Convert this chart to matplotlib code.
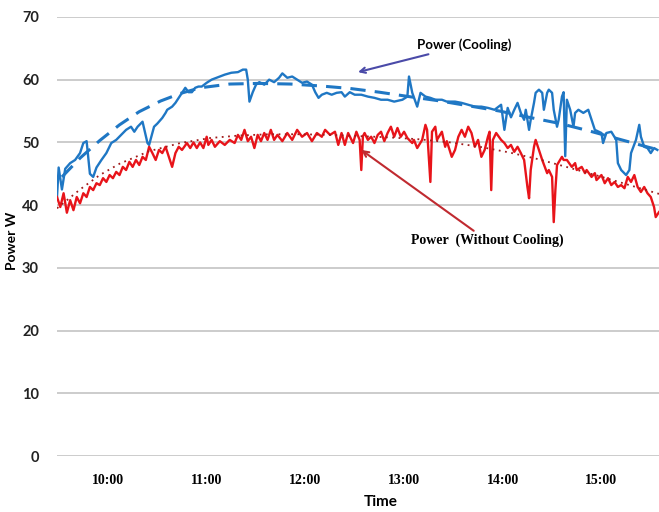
import matplotlib
matplotlib.use("Agg")
from matplotlib import pyplot as plt


def hrs(s):
    h, m = s.split(':')
    return int(h) + int(m) / 60.0


# power with cooling (blue)
coolTimes = ['9:29', '9:30', '9:32', '9:34', '9:37', '9:40', '9:43', '9:45', '9:47', '9:49',
             '9:51', '9:53', '9:56', '9:59', '10:02', '10:05', '10:08', '10:11', '10:14', '10:16',
             '10:18', '10:21', '10:24', '10:25', '10:27', '10:28', '10:30', '10:33', '10:35', '10:36',
             '10:39', '10:41', '10:43', '10:45', '10:47', '10:49', '10:51', '10:53', '10:55', '10:57',
             '11:00', '11:03', '11:07', '11:11', '11:15', '11:19', '11:22', '11:24', '11:25', '11:26',
             '11:28', '11:30', '11:32', '11:35', '11:38', '11:41', '11:44', '11:46', '11:49', '11:52',
             '11:55', '11:58', '12:01', '12:04', '12:06', '12:08', '12:10', '12:13', '12:16', '12:19',
             '12:22', '12:24', '12:27', '12:30', '12:34', '12:38', '12:42', '12:46', '12:50', '12:54',
             '12:59', '13:02', '13:03', '13:05', '13:08', '13:10', '13:13', '13:16', '13:19', '13:23',
             '13:26', '13:31', '13:35', '13:39', '13:43', '13:47', '13:51', '13:55', '13:59', '14:01',
             '14:03', '14:05', '14:07', '14:09', '14:11', '14:13', '14:14', '14:16', '14:17', '14:19',
             '14:20', '14:22', '14:24', '14:25', '14:27', '14:28', '14:30', '14:31', '14:33', '14:34',
             '14:36', '14:37', '14:38', '14:39', '14:41', '14:43', '14:44', '14:46', '14:49', '14:52',
             '14:54', '14:56', '15:00', '15:01', '15:03', '15:06', '15:09', '15:10', '15:12', '15:15',
             '15:17', '15:18', '15:21', '15:23', '15:24', '15:26', '15:28', '15:30', '15:32', '15:34']
coolPower = [41.3, 46.0, 42.5, 45.8, 46.7, 47.2, 48.3, 49.9, 50.2, 45.0,
             44.5, 46.0, 47.2, 48.3, 49.9, 50.4, 51.2, 52.0, 52.5, 51.7,
             52.5, 53.3, 49.9, 49.6, 51.5, 52.5, 53.0, 53.9, 54.7, 55.2,
             55.7, 56.3, 57.1, 57.9, 58.7, 58.0, 58.0, 58.7, 58.9, 58.9,
             59.5, 60.0, 60.4, 60.8, 61.1, 61.2, 61.6, 61.6, 60.0, 56.5,
             58.0, 59.2, 59.6, 59.2, 60.0, 59.6, 60.3, 61.0, 60.3, 60.5,
             60.0, 59.5, 59.7, 59.2, 58.0, 57.1, 57.6, 57.9, 57.6, 57.9,
             58.0, 57.3, 58.0, 57.6, 57.6, 57.3, 57.1, 56.8, 56.8, 56.5,
             56.8, 57.3, 60.5, 57.9, 55.7, 57.9, 57.3, 57.1, 56.8, 56.8,
             56.5, 56.5, 56.3, 56.0, 55.7, 55.7, 55.5, 55.2, 56.0, 52.0,
             55.5, 54.0, 55.2, 56.3, 54.7, 53.6, 55.2, 52.0, 53.6, 56.3,
             57.9, 58.4, 57.9, 55.2, 57.9, 58.4, 57.9, 55.2, 52.5, 53.6,
             57.3, 58.0, 47.8, 56.8, 55.2, 52.5, 54.7, 55.2, 54.7, 55.2,
             53.6, 52.0, 51.5, 49.9, 51.5, 51.7, 50.4, 46.7, 45.6, 44.8,
             45.6, 48.3, 50.4, 52.8, 50.9, 49.3, 49.1, 48.3, 49.1, 48.8]

# power without cooling (red)
noCoolTimes = ['9:29', '9:31', '9:33', '9:35', '9:37', '9:39', '9:41', '9:43', '9:45', '9:47',
               '9:49', '9:51', '9:53', '9:55', '9:57', '9:59', '10:01', '10:03', '10:05', '10:07',
               '10:09', '10:11', '10:13', '10:15', '10:17', '10:19', '10:21', '10:23', '10:25', '10:27',
               '10:29', '10:31', '10:33', '10:35', '10:37', '10:39', '10:41', '10:43', '10:45', '10:48',
               '10:50', '10:52', '10:54', '10:56', '10:58', '11:00', '11:01', '11:03', '11:05', '11:08',
               '11:11', '11:14', '11:17', '11:19', '11:21', '11:23', '11:25', '11:27', '11:29', '11:31',
               '11:33', '11:35', '11:37', '11:39', '11:41', '11:43', '11:46', '11:49', '11:52', '11:55',
               '11:58', '12:01', '12:04', '12:07', '12:10', '12:12', '12:15', '12:18', '12:20', '12:22',
               '12:24', '12:26', '12:29', '12:31', '12:33', '12:34', '12:35', '12:36', '12:38', '12:40',
               '12:42', '12:44', '12:46', '12:48', '12:50', '12:52', '12:54', '12:56', '12:58', '13:00',
               '13:02', '13:05', '13:06', '13:08', '13:11', '13:13', '13:14', '13:16', '13:17', '13:19',
               '13:20', '13:23', '13:25', '13:26', '13:29', '13:31', '13:33', '13:35', '13:37', '13:39',
               '13:41', '13:43', '13:45', '13:47', '13:49', '13:51', '13:52', '13:53', '13:54', '13:56',
               '13:59', '14:01', '14:03', '14:05', '14:07', '14:09', '14:11', '14:13', '14:15', '14:16',
               '14:17', '14:19', '14:20', '14:22', '14:24', '14:27', '14:28', '14:30', '14:31', '14:32',
               '14:33', '14:36', '14:37', '14:39', '14:42', '14:44', '14:45', '14:48', '14:50', '14:51',
               '14:54', '14:56', '14:57', '15:00', '15:02', '15:04', '15:06', '15:08', '15:10', '15:12',
               '15:14', '15:16', '15:18', '15:20', '15:22', '15:24', '15:26', '15:28', '15:30', '15:32',
               '15:33', '15:35']
noCoolPower = [41.3, 39.7, 41.9, 38.8, 40.8, 39.2, 41.3, 40.3, 41.9, 41.3,
               42.9, 42.4, 43.5, 43.2, 44.3, 43.7, 44.8, 44.3, 45.3, 44.8,
               46.1, 45.6, 46.9, 46.1, 47.2, 46.4, 47.7, 47.2, 49.3, 48.3,
               47.2, 48.8, 48.3, 49.3, 47.7, 46.1, 48.3, 49.3, 48.8, 49.9,
               49.1, 50.0, 49.1, 50.0, 49.1, 50.9, 49.6, 50.4, 49.3, 50.2,
               49.6, 50.4, 49.9, 51.2, 50.4, 52.0, 50.2, 50.9, 49.1, 51.2,
               50.2, 51.5, 50.4, 52.0, 50.4, 51.2, 50.2, 51.5, 50.4, 52.0,
               50.9, 51.5, 50.2, 51.5, 50.9, 52.0, 51.2, 51.7, 49.6, 51.5,
               49.6, 51.5, 49.9, 51.7, 50.4, 45.6, 51.0, 51.5, 50.4, 50.9,
               49.9, 51.2, 51.7, 50.2, 51.5, 52.5, 50.9, 52.3, 50.9, 51.7,
               50.7, 49.9, 50.4, 49.1, 50.4, 52.8, 52.0, 43.7, 51.7, 52.5,
               50.4, 51.7, 49.3, 50.2, 47.7, 48.8, 50.9, 52.0, 50.9, 52.5,
               51.5, 49.3, 50.4, 47.7, 48.8, 50.9, 51.7, 42.4, 50.4, 51.5,
               50.4, 49.9, 49.1, 49.6, 48.5, 49.3, 48.3, 47.2, 42.9, 41.1,
               45.6, 49.3, 50.4, 48.8, 47.2, 45.1, 45.6, 44.5, 37.3, 42.4,
               46.4, 47.7, 47.2, 47.2, 46.1, 46.7, 45.6, 46.1, 45.1, 45.6,
               44.5, 45.1, 44.0, 44.8, 43.5, 44.3, 43.2, 43.7, 42.9, 43.2,
               42.7, 44.5, 43.7, 44.8, 42.9, 42.1, 42.9, 41.9, 41.3, 39.7,
               38.1, 38.9]

# trend lines
coolTrendTimes = ['9:32', '9:43', '9:55', '10:07', '10:19', '10:32', '10:44', '10:56', '11:14', '11:32',
                  '11:51', '12:09', '12:27', '12:45', '13:03', '13:22', '13:40', '13:58', '14:16', '14:35',
                  '14:53', '15:11', '15:29', '15:35']
coolTrend = [44.5, 47.5, 50.3, 52.8, 54.9, 56.6, 57.8, 58.7, 59.3, 59.4,
             59.3, 59.0, 58.6, 58.0, 57.3, 56.6, 55.8, 55.0, 54.0, 53.0,
             51.8, 50.5, 49.2, 48.8]
noCoolTrendTimes = ['9:29', '9:43', '9:55', '10:07', '10:25', '10:44', '11:02', '11:20', '11:38', '11:57',
                    '12:15', '12:33', '12:51', '13:09', '13:28', '13:46', '14:04', '14:22', '14:40', '14:59',
                    '15:17', '15:35']
noCoolTrend = [39.5, 42.5, 44.8, 46.6, 48.6, 49.9, 50.7, 51.1, 51.3, 51.3,
               51.2, 51.0, 50.8, 50.5, 50.0, 49.3, 48.4, 47.3, 46.0, 44.6,
               43.2, 41.8]

tickTimes = ['10:00', '11:00', '12:00', '13:00', '14:00', '15:00']
yTicks = [0, 10, 20, 30, 40, 50, 60, 70]

blue = '#1f77c4'
red = '#e8141a'

fig = plt.figure(figsize=(6.59, 5.12), dpi=100)
ax = fig.add_axes([0.0865, 0.109, 0.9135, 0.858])

ax.plot([hrs(t) for t in coolTimes], coolPower, color=blue, lw=1.7, zorder=3)
ax.plot([hrs(t) for t in noCoolTimes], noCoolPower, color=red, lw=1.7, zorder=3)
ax.plot([hrs(t) for t in coolTrendTimes], coolTrend, color=blue, lw=2.2,
        dashes=(5, 3), zorder=4)
ax.plot([hrs(t) for t in noCoolTrendTimes], noCoolTrend, color='#a01a1a', lw=1.3,
        ls=(0, (1, 2.5)), zorder=4)

ax.set_xlim(hrs('9:29'), hrs('15:35'))
ax.set_ylim(0, 70)
ax.set_yticks(yTicks)
ax.set_xticks([hrs(t) for t in tickTimes])
ax.set_xticklabels(tickTimes, family='Liberation Serif', weight='bold', fontsize=10)
for lbl in ax.get_yticklabels():
    lbl.set_family('Lato')
    lbl.set_weight('bold')
    lbl.set_fontsize(10.5)
    lbl.set_color('#222222')
ax.tick_params(axis='y', length=0, pad=13)
ax.tick_params(axis='x', length=0, pad=13)
ax.grid(axis='y', color='#c8c8c8', lw=1.3)
ax.set_axisbelow(True)
for s in ax.spines.values():
    s.set_visible(False)

ax.set_ylabel('Power W', family='Lato', weight='bold', fontsize=10)
ax.yaxis.set_label_coords(-0.064, 0.49)
ax.set_xlabel('Time', family='Lato', weight='bold', fontsize=11)
ax.xaxis.set_label_coords(0.537, -0.088)

ax.annotate('Power (Cooling)', xy=(hrs('12:32'), 61.2), xytext=(hrs('13:08'), 65.5),
            family='Lato', weight='bold', fontsize=9.5, va='center', ha='left',
            arrowprops=dict(arrowstyle='->', color='#4a4aa8', lw=1.5, shrinkA=0, shrinkB=0))
ax.annotate('Power  (Without Cooling)', xy=(hrs('12:34'), 48.8), xytext=(hrs('13:04'), 34.4),
            family='Liberation Serif', weight='bold', fontsize=10, va='center', ha='left',
            arrowprops=dict(arrowstyle='->', color='#c02a30', lw=1.5, shrinkA=0, shrinkB=0))

plt.savefig('out.png', dpi=100)
